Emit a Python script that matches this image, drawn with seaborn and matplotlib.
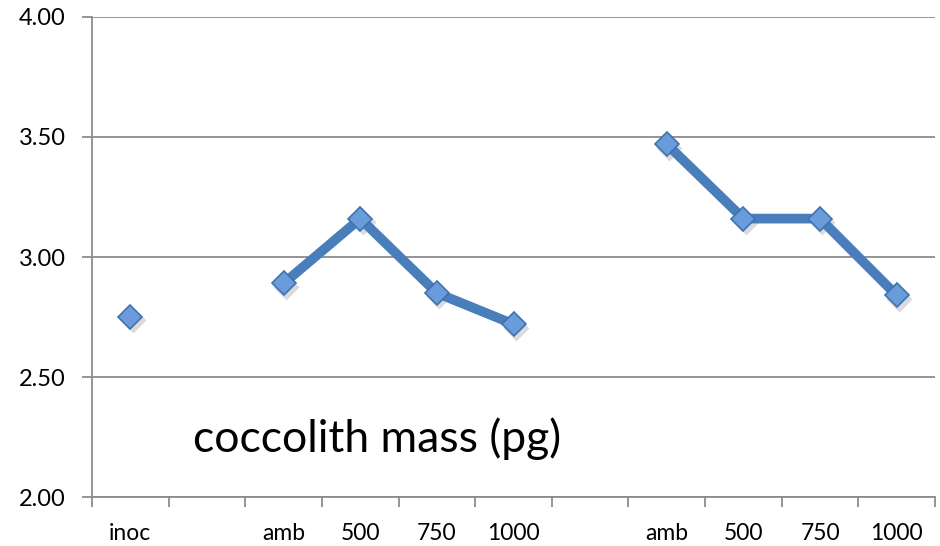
import matplotlib
matplotlib.use("Agg")
import matplotlib.pyplot as plt
import seaborn as sns
import pandas as pd
import numpy as np

# Category axis (blank slots separate the groups)
categories = ["inoc", "", "amb", "500", "750", "1000", "", "amb", "500", "750", "1000"]

# Coccolith mass (pg)
inoc_mass = [2.75]
group1_labels = ["amb", "500", "750", "1000"]
group1_mass = [2.89, 3.16, 2.85, 2.72]
group2_labels = ["amb", "500", "750", "1000"]
group2_mass = [3.47, 3.16, 3.16, 2.84]

y_ticks = [2.00, 2.50, 3.00, 3.50, 4.00]

# Build a long table: each group sits on its own slots of the category axis
rows = []
rows.append(dict(group="inoc", pos=0, mass=inoc_mass[0]))
for i, v in enumerate(group1_mass):
    rows.append(dict(group="g1", pos=2 + i, mass=v))
for i, v in enumerate(group2_mass):
    rows.append(dict(group="g2", pos=7 + i, mass=v))
df = pd.DataFrame(rows)

sns.set_theme(style="white")
plt.rcParams["font.family"] = ["Lato", "DejaVu Sans"]

fig = plt.figure(figsize=(9.4, 5.46), dpi=100)
ax = fig.add_axes([0.0979, 0.0897, 0.8968, 0.8792])

line_color = "#4A7EBB"
marker_face = "#6A9BDA"
marker_edge = "#3F72B0"

for g, sub in df.groupby("group", sort=False):
    # soft drop shadow under the markers
    ax.plot(sub["pos"] + 0.03, sub["mass"] - 0.014, linestyle="none", marker="D",
            markersize=13, markerfacecolor="#999999", markeredgecolor="none",
            alpha=0.35, zorder=2)
    sns.lineplot(data=sub, x="pos", y="mass", ax=ax, color=line_color,
                 linewidth=7, marker="D", markersize=12.5,
                 markerfacecolor=marker_face, markeredgecolor=marker_edge,
                 markeredgewidth=1.2, estimator=None, zorder=3,
                 solid_capstyle="butt")

ax.set_xlim(-0.5, len(categories) - 0.5)
ax.set_ylim(2.0, 4.0)

# y axis
ax.set_yticks(y_ticks)
ax.set_yticklabels([f"{t:.2f}" for t in y_ticks], fontsize=17, color="#000000")
ax.yaxis.grid(True, color="#8C8C8C", linewidth=1.3)
ax.xaxis.grid(False)

# x axis: tick marks at slot boundaries, labels at slot centres
ax.set_xticks(np.arange(len(categories) + 1) - 0.5)
ax.set_xticklabels([])
ax.set_xticks(np.arange(len(categories)), minor=True)
ax.set_xticklabels(categories, minor=True, fontsize=16.5, color="#000000")

ax.tick_params(axis="x", which="major", direction="out", length=7, width=1.3,
               color="#8C8C8C", bottom=True)
ax.tick_params(axis="x", which="minor", length=0, pad=19)
ax.tick_params(axis="y", which="major", direction="out", length=7, width=1.3,
               color="#8C8C8C", left=True, pad=12)

for side in ["top", "right"]:
    ax.spines[side].set_visible(False)
for side in ["left", "bottom"]:
    ax.spines[side].set_color("#8C8C8C")
    ax.spines[side].set_linewidth(1.3)

ax.set_xlabel("")
ax.set_ylabel("")

ax.text(3.22, 2.245, "coccolith mass (pg)", fontsize=32, ha="center", va="center",
        color="#000000")

fig.savefig("out.png", dpi=100)
